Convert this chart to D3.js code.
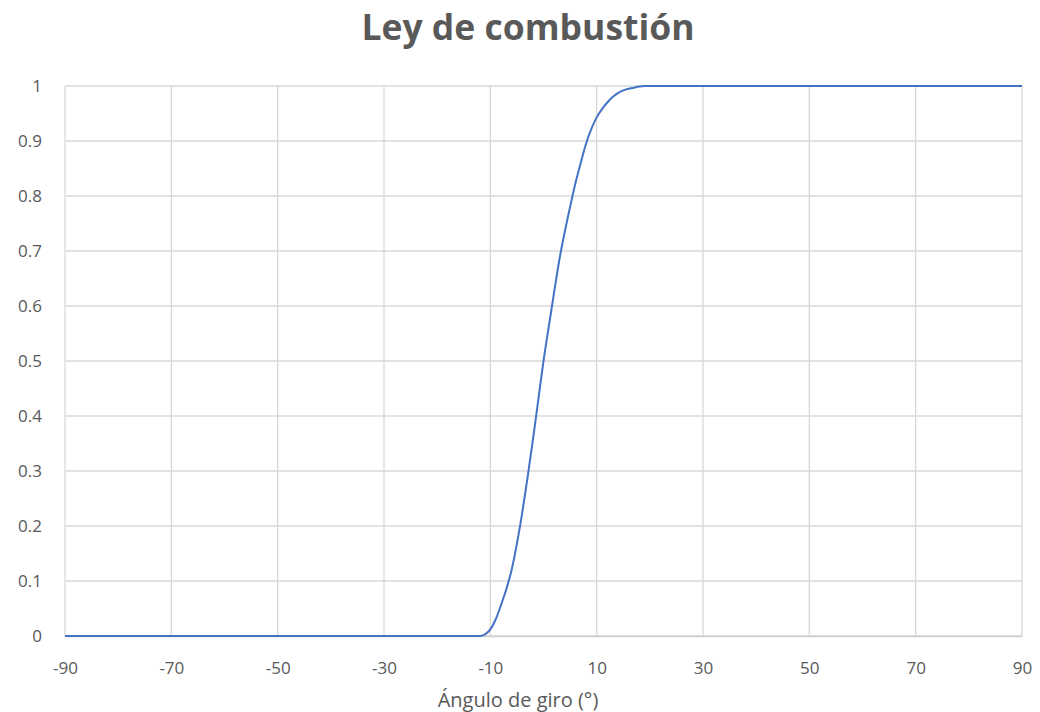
<!DOCTYPE html>
<html lang="es">
<head>
<meta charset="utf-8">
<title>Ley de combustión</title>
<script src="https://cdn.jsdelivr.net/npm/d3@7"></script>
<style>
  html, body { margin: 0; padding: 0; background: #ffffff; }
  svg { display: block; font-family: "Open Sans", "Noto Sans", sans-serif; }
</style>
</head>
<body>
<svg id="chart" width="1040" height="712"></svg>
<script>
// Fracción de masa quemada frente al ángulo de giro del cigüeñal
const angles = [-90, -12, -11, -10, -9, -8, -7, -6, -5, -4, -3, -2, -1, 0, 1, 2, 3, 4, 5,
                6, 7, 8, 9, 10, 11, 12, 13, 14, 15, 16, 17, 18, 19, 20, 90];
const burned = [0, 0, 0.003, 0.012, 0.03, 0.056, 0.085, 0.12, 0.168, 0.224, 0.288, 0.356, 0.428, 0.5, 0.563,
                0.625, 0.685, 0.735, 0.78, 0.823, 0.86, 0.895, 0.922, 0.943, 0.958, 0.97, 0.98, 0.987, 0.992,
                0.995, 0.997, 0.999, 1, 1, 1];
const xTicks = [-90, -70, -50, -30, -10, 10, 30, 50, 70, 90];
const yTicks = [0, 0.1, 0.2, 0.3, 0.4, 0.5, 0.6, 0.7, 0.8, 0.9, 1];

const titleText = "Ley de combustión";
const xTitle = "Ángulo de giro (°)";

const svg = d3.select("#chart");
const margin = { left: 65, right: 18, top: 86, bottom: 76 };
const W = 1040, H = 712;

const x = d3.scaleLinear().domain([-90, 90]).range([margin.left, W - margin.right]);
const y = d3.scaleLinear().domain([0, 1]).range([H - margin.bottom, margin.top]);

const gridColor = "#d9d9d9";
const textColor = "#595959";

// Rejilla vertical
svg.append("g")
  .selectAll("line")
  .data(xTicks)
  .join("line")
  .attr("x1", d => x(d)).attr("x2", d => x(d))
  .attr("y1", y(0)).attr("y2", y(1))
  .attr("stroke", gridColor).attr("stroke-width", 1.3);

// Rejilla horizontal
svg.append("g")
  .selectAll("line")
  .data(yTicks)
  .join("line")
  .attr("x1", x(-90)).attr("x2", x(90))
  .attr("y1", d => y(d)).attr("y2", d => y(d))
  .attr("stroke", gridColor).attr("stroke-width", 1.3);

// Eje X (guion simple como signo menos)
const xAxis = svg.append("g")
  .attr("transform", `translate(0,${y(0)})`)
  .call(d3.axisBottom(x).tickValues(xTicks).tickSize(0).tickPadding(26).tickFormat(d => String(d)));
xAxis.select(".domain").attr("stroke", "#d0d0d0").attr("stroke-width", 1.5);
xAxis.selectAll("text").attr("fill", textColor).attr("font-size", 17)
  .attr("font-family", "'Open Sans', sans-serif");

// Eje Y
const yAxis = svg.append("g")
  .attr("transform", `translate(${x(-90)},0)`)
  .call(d3.axisLeft(y).tickValues(yTicks).tickSize(0).tickPadding(23).tickFormat(d => String(d)));
yAxis.select(".domain").remove();
yAxis.selectAll("text").attr("fill", textColor).attr("font-size", 17)
  .attr("font-family", "'Open Sans', sans-serif");

// Curva
const line = d3.line()
  .x((d, i) => x(angles[i]))
  .y(d => y(d))
  .curve(d3.curveMonotoneX);

svg.append("path")
  .datum(burned)
  .attr("d", line)
  .attr("fill", "none")
  .attr("stroke", "#4472c4")
  .attr("stroke-width", 2)
  .attr("stroke-linejoin", "round");

// Título
svg.append("text")
  .attr("x", 528).attr("y", 39.5)
  .attr("text-anchor", "middle")
  .attr("fill", textColor)
  .attr("font-size", 35.5)
  .attr("font-weight", 700)
  .text(titleText);

// Título del eje X
svg.append("text")
  .attr("x", 518).attr("y", 707)
  .attr("text-anchor", "middle")
  .attr("fill", textColor)
  .attr("font-size", 20)
  .text(xTitle);
</script>
</body>
</html>
